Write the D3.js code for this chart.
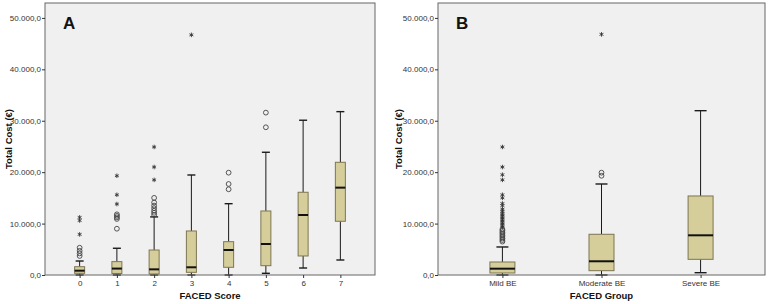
<!DOCTYPE html>
<html>
<head>
<meta charset="utf-8">
<script src="https://cdn.jsdelivr.net/npm/d3@7"></script>
<style>
  body { margin: 0; background: #fff; }
  text { font-family: "Liberation Sans", Arial, sans-serif; }
  .tick_lbl { font-size: 8px; fill: #333; }
  .axis_title { font-size: 9.5px; font-weight: bold; fill: #111; }
  .panel_letter { font-size: 17px; font-weight: bold; fill: #111; }
</style>
</head>
<body>
<div id="chart"></div>
<script>
// ---- Data ----
const yTicks = [0, 10000, 20000, 30000, 40000, 50000];

// Panel A: FACED Score
const scoreCats = ["0", "1", "2", "3", "4", "5", "6", "7"];
const scoreLo   = [0,    0,    0,    0,    0,    330,  1360,  2920];
const scoreQ1   = [330,  300,  200,  520,  1500, 1810, 3700,  10450];
const scoreMed  = [840,  1250, 1100, 1500, 4860, 6030, 11670, 16990];
const scoreQ3   = [1615, 2600, 4860, 8560, 6480, 12450, 16090, 21920];
const scoreHi   = [2720, 5200, 11300, 19450, 13870, 23870, 30100, 31770];
const scoreCircles = [
  [3700, 4200, 4700, 5300],
  [9000, 10900, 11200, 11500, 11800],
  [11700, 12100, 12500, 13000, 13500, 14100, 15000],
  [],
  [16670, 17700, 19900],
  [28730, 31580],
  [],
  []
];
const scoreStars = [
  [7900, 10600, 11200],
  [13800, 15600, 19300],
  [18500, 21000, 24900],
  [46700],
  [], [], [], []
];

// Panel B: FACED Group
const groupCats = ["Mild BE", "Moderate BE", "Severe BE"];
const groupLo   = [0,    0,     450];
const groupQ1   = [390,  840,   3050];
const groupMed  = [1230, 2670,  7720];
const groupQ3   = [2530, 7920,  15370];
const groupHi   = [5450, 17700, 31960];
const groupCircles = [
  [6500, 6800, 7100, 7400, 7700, 8000, 8300, 8600, 8900],
  [19300, 19900],
  []
];
const groupStars = [
  [9300, 9600, 9900, 10200, 10500, 10800, 11100, 11400, 11700, 12000, 12400, 12800, 13500, 13900, 15000, 15600, 18500, 19500, 21000, 24900],
  [46800],
  []
];

// ---- Helpers ----
const loc = d3.formatLocale({decimal: ",", thousands: ".", grouping: [3], currency: ["", "€"]});
const fmt = loc.format(",.1f");

const W = 768, H = 304;
const svg = d3.select("#chart").append("svg").attr("width", W).attr("height", H);

function drawPanel(opt) {
  const {left, right, top, bottom, cats, lo, q1, med, q3, hi, circles, stars, boxW, capW, pad, letter, xTitle} = opt;

  const y = d3.scaleLinear().domain([0, 52900]).range([bottom, top]);
  const x = d3.scalePoint().domain(cats).range([left, right]).padding(pad);

  const g = svg.append("g");

  // plot background
  g.append("rect")
    .attr("x", left).attr("y", top)
    .attr("width", right - left).attr("height", bottom - top)
    .attr("fill", "#f0f0f0");

  // boxes
  cats.forEach((c, i) => {
    const cx = x(c);
    // whiskers
    g.append("line").attr("x1", cx).attr("x2", cx).attr("y1", y(q3[i])).attr("y2", y(hi[i]))
      .attr("stroke", "#1a1a1a").attr("stroke-width", 1);
    g.append("line").attr("x1", cx).attr("x2", cx).attr("y1", y(q1[i])).attr("y2", y(lo[i]))
      .attr("stroke", "#1a1a1a").attr("stroke-width", 1);
    // caps
    g.append("line").attr("x1", cx - capW / 2).attr("x2", cx + capW / 2).attr("y1", y(hi[i])).attr("y2", y(hi[i]))
      .attr("stroke", "#1a1a1a").attr("stroke-width", 1.4);
    g.append("line").attr("x1", cx - capW / 2).attr("x2", cx + capW / 2).attr("y1", y(lo[i])).attr("y2", y(lo[i]))
      .attr("stroke", "#1a1a1a").attr("stroke-width", 1.4);
    // box
    g.append("rect")
      .attr("x", cx - boxW / 2).attr("y", y(q3[i]))
      .attr("width", boxW).attr("height", y(q1[i]) - y(q3[i]))
      .attr("fill", "#d5ce9b").attr("stroke", "#7d7550").attr("stroke-width", 1);
    // median
    g.append("line").attr("x1", cx - boxW / 2).attr("x2", cx + boxW / 2).attr("y1", y(med[i])).attr("y2", y(med[i]))
      .attr("stroke", "#111").attr("stroke-width", 2);

    // outliers
    g.selectAll(null).data(circles[i]).enter().append("circle")
      .attr("cx", cx).attr("cy", d => y(d)).attr("r", 2.4)
      .attr("fill", "none").attr("stroke", "#444").attr("stroke-width", 0.9);
    g.selectAll(null).data(stars[i]).enter().append("path")
      .attr("transform", d => "translate(" + cx + "," + y(d) + ")")
      .attr("d", d3.symbol(d3.symbolAsterisk).size(14))
      .attr("fill", "none").attr("stroke", "#333").attr("stroke-width", 0.9);
  });

  // frame
  g.append("rect")
    .attr("x", left).attr("y", top)
    .attr("width", right - left).attr("height", bottom - top)
    .attr("fill", "none").attr("stroke", "#666").attr("stroke-width", 1);

  // y axis
  const yAxis = g.append("g").attr("transform", "translate(" + left + ",0)")
    .call(d3.axisLeft(y).tickValues(yTicks).tickFormat(fmt).tickSize(3).tickPadding(1));
  yAxis.select(".domain").remove();
  yAxis.selectAll("line").attr("stroke", "#333");
  yAxis.selectAll("text").attr("class", "tick_lbl").attr("font-size", null).attr("font-family", null).attr("fill", null);

  // x axis
  const xAxis = g.append("g").attr("transform", "translate(0," + bottom + ")")
    .call(d3.axisBottom(x).tickSize(3).tickPadding(2));
  xAxis.select(".domain").remove();
  xAxis.selectAll("line").attr("stroke", "#333");
  xAxis.selectAll("text").attr("class", "tick_lbl").attr("font-size", null).attr("font-family", null).attr("fill", null);

  // titles
  g.append("text").attr("class", "axis_title")
    .attr("transform", "translate(" + opt.yTitleX + "," + ((top + bottom) / 2) + ") rotate(-90)")
    .attr("text-anchor", "middle").text("Total Cost (€)");
  g.append("text").attr("class", "axis_title")
    .attr("x", (left + right) / 2).attr("y", 299)
    .attr("text-anchor", "middle").text(xTitle);

  // panel letter
  g.append("text").attr("class", "panel_letter")
    .attr("x", left + 18).attr("y", 29).text(letter);
}

drawPanel({
  left: 45, right: 375, top: 3, bottom: 275,
  cats: scoreCats, lo: scoreLo, q1: scoreQ1, med: scoreMed, q3: scoreQ3, hi: scoreHi,
  circles: scoreCircles, stars: scoreStars,
  boxW: 10, capW: 8, pad: 0.93, letter: "A", xTitle: "FACED Score", yTitleX: 12
});

drawPanel({
  left: 438, right: 765, top: 3, bottom: 275,
  cats: groupCats, lo: groupLo, q1: groupQ1, med: groupMed, q3: groupQ3, hi: groupHi,
  circles: groupCircles, stars: groupStars,
  boxW: 25, capW: 12, pad: 0.65, letter: "B", xTitle: "FACED Group", yTitleX: 402
});
</script>
</body>
</html>
